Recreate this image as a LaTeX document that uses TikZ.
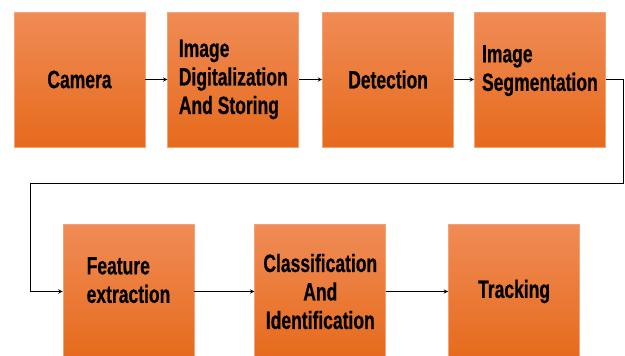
\documentclass[tikz,border=0pt]{standalone}
\usepackage{fontspec}
\newfontfamily\stagefont[FakeStretch=0.70, BoldFeatures={FakeBold=0.6}]{Liberation Sans}
\usepackage{tikz}
\usetikzlibrary{shapes, arrows, positioning, fit}

\definecolor{orangeTop}{HTML}{F08C56}
\definecolor{orangeMid}{HTML}{F07B2E}
\definecolor{orangeBot}{HTML}{E66A1C}
\definecolor{orangeEdge}{HTML}{F4A374}

\begin{document}
\begin{tikzpicture}[x=1pt,y=-1pt,node distance=22pt]

% Define block styles
\tikzstyle{stage} = [rectangle, minimum width=131pt, minimum height=135pt, inner sep=0pt, align=left, draw=orangeEdge, line width=0.8pt, top color=orangeTop, middle color=orangeMid, bottom color=orangeBot, font=\stagefont\bfseries\fontsize{25}{28.5}\selectfont]
\tikzstyle{arrow} = [line width=1pt,->,>=stealth]

\useasboundingbox (0,0) rectangle (625,356);

% Define nodes
\node (camera) [stage] at (79.5,79.5) {Camera};
\node (digital) [stage, right = of camera] {Image\\Digitalization\\And Storing};
\node (detect) [stage, right = of digital, xshift=1pt] {Detection};
\node (segment) [stage, right = of detect, xshift=-2pt] {Image\\Segmentation\\[-5.5pt]\mbox{}};

\node (feature) [stage] at (128.5,291.5) {Feature\\extraction\\[-5.5pt]\mbox{}};
\node (classify) [stage, right = of feature, xshift=38pt, align=center] {Classification\\And\\Identification};
\node (track) [stage, right = of classify, xshift=40pt] {Tracking};

\coordinate (turnR) at (623,183);
\coordinate (turnL) at (30,183);

% Draw arrows
\draw [arrow] (camera) -- (digital);
\draw [arrow] (digital) -- (detect);
\draw [arrow] (detect) -- (segment);
\draw [arrow] (segment.east) -| (turnR) -- (turnL) |- (feature.west);
\draw [arrow] (feature) -- (classify);
\draw [arrow] (classify) -- (track);

\end{tikzpicture}
\end{document}
